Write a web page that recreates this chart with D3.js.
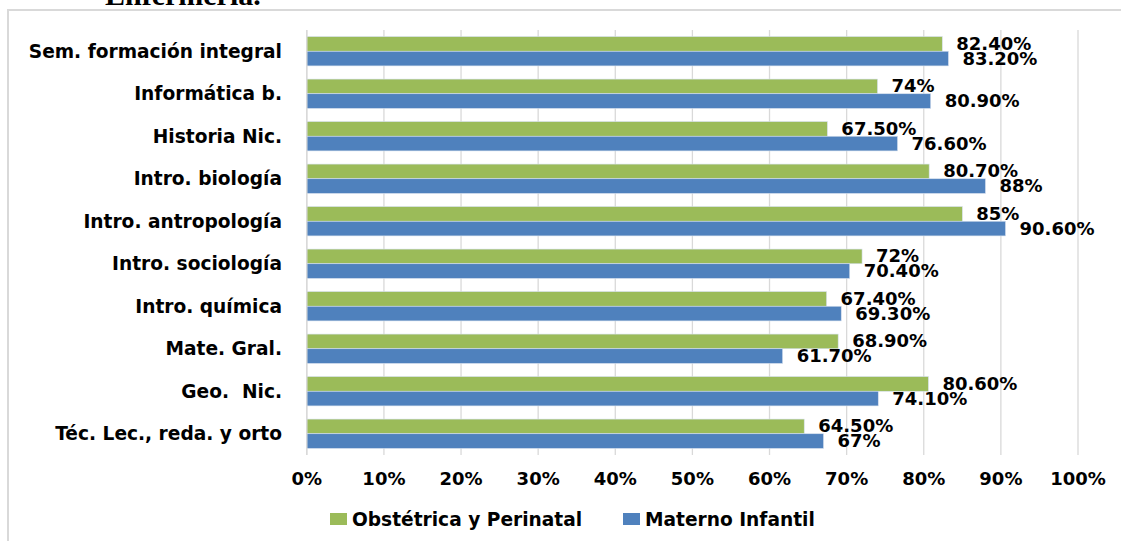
<!DOCTYPE html>
<html><head><meta charset="utf-8">
<script src="https://cdn.jsdelivr.net/npm/d3@7"></script>
<style>body{margin:0;background:#fff}svg{display:block}</style>
</head><body><svg id="c" width="1121" height="541"></svg>
<script>
const categories = ["Sem. formación integral","Informática b.","Historia Nic.","Intro. biología","Intro. antropología","Intro. sociología","Intro. química","Mate. Gral.","Geo.  Nic.","Téc. Lec., reda. y orto"];
const obstetrica = [82.4,74,67.5,80.7,85,72,67.4,68.9,80.6,64.5];
const materno = [83.2,80.9,76.6,88,90.6,70.4,69.3,61.7,74.1,67];
const obstetricaLabels = ["82.40%","74%","67.50%","80.70%","85%","72%","67.40%","68.90%","80.60%","64.50%"];
const maternoLabels = ["83.20%","80.90%","76.60%","88%","90.60%","70.40%","69.30%","61.70%","74.10%","67%"];
const xTicks = [0,10,20,30,40,50,60,70,80,90,100];
const seriesNames = ["Obstétrica y Perinatal","Materno Infantil"];
const colors = ["#9BBB59","#4F81BD"];

const svg = d3.select("#c");
const font = "'DejaVu Sans', Verdana, sans-serif";
// cut-off title
svg.append("text").attr("x",105).attr("y",5).attr("font-family","'Liberation Serif', serif")
  .attr("font-weight","bold").attr("font-size",30).attr("fill","#000").text("Enfermería.");
// chart border
svg.append("rect").attr("x",8).attr("y",10).attr("width",1125).attr("height",545)
  .attr("fill","none").attr("stroke","#D9D9D9").attr("stroke-width",2);

const x = d3.scaleLinear().domain([0,100]).range([306.8,1078]);
const y = d3.scaleBand().domain(categories).range([30,455]).paddingInner(0.31).paddingOuter(0.155);
const ys = d3.scaleBand().domain([0,1]).range([0,y.bandwidth()]);

// gridlines
svg.append("g").selectAll("line").data(xTicks).join("line")
  .attr("x1",d=>x(d)).attr("x2",d=>x(d)).attr("y1",30).attr("y2",455)
  .attr("stroke","#D9D9D9").attr("stroke-width",1.3);

const series = [obstetrica, materno];
const labels = [obstetricaLabels, maternoLabels];
series.forEach((vals,si)=>{
  const g = svg.append("g");
  g.selectAll("rect").data(vals).join("rect")
    .attr("x",x(0)).attr("y",(d,i)=>y(categories[i])+ys(si))
    .attr("width",d=>x(d)-x(0)).attr("height",ys.bandwidth())
    .attr("fill",colors[si]).attr("stroke","#d6e0ee").attr("stroke-width",0.6);
  g.selectAll("text").data(vals).join("text")
    .attr("x",d=>x(d)+14).attr("y",(d,i)=>y(categories[i])+ys(si)+ys.bandwidth()/2+1)
    .attr("dominant-baseline","middle")
    .attr("font-family",font).attr("font-weight","bold").attr("font-size",18).attr("fill","#000")
    .text((d,i)=>labels[si][i]);
});

// category labels
svg.append("g").selectAll("text").data(categories).join("text")
  .attr("x",282).attr("y",d=>y(d)+y.bandwidth()/2+1).attr("text-anchor","end")
  .attr("dominant-baseline","middle").attr("font-family",font).attr("font-weight","bold")
  .attr("font-size",18.6).attr("fill","#000").attr("xml:space","preserve").text(d=>d);

// x axis tick labels
svg.append("g").selectAll("text").data(xTicks).join("text")
  .attr("x",d=>x(d)).attr("y",480).attr("text-anchor","middle").attr("dominant-baseline","middle")
  .attr("font-family",font).attr("font-weight","bold").attr("font-size",18).attr("fill","#000")
  .text(d=>d+"%");

// y axis line
svg.append("line").attr("x1",x(0)).attr("x2",x(0)).attr("y1",30).attr("y2",455)
  .attr("stroke","#D9D9D9").attr("stroke-width",1.3);

// legend
const legX = [330,623];
seriesNames.forEach((n,i)=>{
  svg.append("rect").attr("x",legX[i]).attr("y",513).attr("width",17).attr("height",12).attr("fill",colors[i]);
  svg.append("text").attr("x",legX[i]+22).attr("y",520).attr("dominant-baseline","middle")
    .attr("font-family",font).attr("font-weight","bold").attr("font-size",18.6).attr("fill","#000").text(n);
});
</script></body></html>
